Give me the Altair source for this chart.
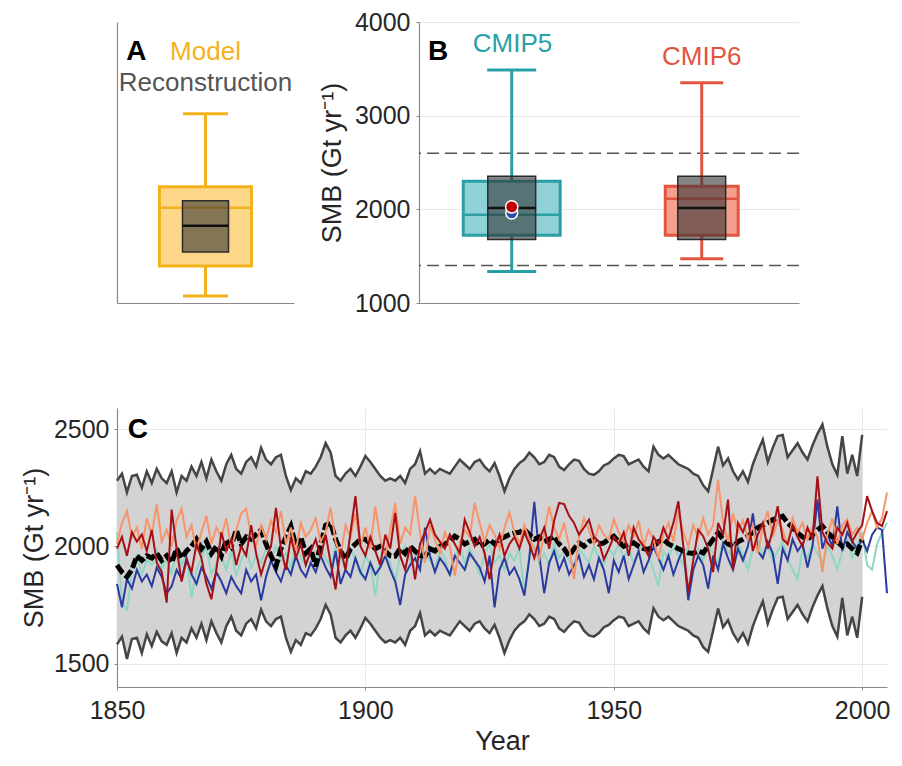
import altair as alt
import pandas as pd

FONT = "Liberation Sans"
INK = "#262626"
AXIS_GRAY = "#8a8a8a"
GRID = "#e9e9e9"

# ---------------- Panel A data ----------------
a_texts = ["A", "Model", "Reconstruction"]
a_model_stats = [1075, 1396, 2016, 2241, 3021]   # low whisker, q1, median, q3, high whisker
a_recon_stats = [1545, 1824, 2091]               # q1, median, q3

# ---------------- Panel B data ----------------
b_groups = ["CMIP5", "CMIP6"]
b_lo = [1337, 1473]
b_q1 = [1722, 1722]
b_med = [1943, 2114]
b_q3 = [2299, 2246]
b_hi = [3487, 3352]
b_recon = [1679, 2015, 2353]      # reconstruction q1, median, q3
b_range = [1400, 2600]            # dashed range lines
b_dot_red = 2026
b_dot_blue = 1960

# ---------------- Panel C data ----------------
recon_years = list(range(1850, 2001))
recon_upper = [
    2280, 2310, 2230, 2300, 2305, 2250, 2320, 2270, 2330, 2290,
    2270, 2320, 2230, 2300, 2280, 2340, 2300, 2360, 2290, 2370,
    2320, 2280, 2350, 2390, 2330, 2310, 2360, 2380, 2340, 2420,
    2370, 2350, 2380, 2390, 2300, 2240, 2290, 2270, 2320, 2310,
    2340, 2380, 2440, 2400, 2300, 2280, 2310, 2330, 2300, 2340,
    2385, 2360, 2330, 2300, 2280, 2290, 2280, 2300, 2270, 2330,
    2350, 2405, 2310, 2330, 2310, 2330, 2320, 2310, 2340, 2370,
    2350, 2330, 2360, 2370, 2340, 2320, 2355, 2300, 2235, 2290,
    2330, 2355, 2370, 2400, 2380, 2350, 2360, 2390, 2380, 2340,
    2325, 2350, 2370, 2365, 2330, 2310, 2305, 2320, 2345, 2355,
    2375, 2390, 2385, 2350, 2360, 2370, 2340, 2320, 2425, 2390,
    2375, 2390, 2370, 2350, 2340, 2330, 2310, 2300, 2260, 2235,
    2330, 2425, 2345, 2375, 2320, 2285, 2320, 2275, 2350, 2405,
    2455, 2360, 2420, 2470, 2475, 2380, 2410, 2440, 2400, 2370,
    2430, 2480, 2520, 2425, 2350, 2305, 2470, 2310, 2390, 2300,
    2475,
]
recon_lower = [
    1582, 1615, 1520, 1605, 1610, 1545, 1625, 1575, 1635, 1595,
    1580, 1630, 1545, 1610, 1590, 1650, 1610, 1670, 1600, 1680,
    1630, 1590, 1660, 1700, 1640, 1620, 1670, 1690, 1650, 1730,
    1680, 1660, 1690, 1700, 1610, 1550, 1600, 1580, 1630, 1620,
    1650, 1690, 1750, 1710, 1610, 1590, 1620, 1640, 1610, 1650,
    1695, 1670, 1640, 1610, 1590, 1600, 1590, 1610, 1580, 1640,
    1660, 1715, 1620, 1640, 1620, 1640, 1630, 1620, 1650, 1680,
    1660, 1640, 1670, 1680, 1650, 1630, 1665, 1610, 1545, 1600,
    1640, 1665, 1680, 1710, 1690, 1660, 1670, 1700, 1690, 1650,
    1635, 1660, 1680, 1675, 1640, 1620, 1615, 1630, 1655, 1665,
    1685, 1700, 1695, 1660, 1670, 1680, 1650, 1630, 1735, 1700,
    1685, 1700, 1680, 1660, 1650, 1640, 1620, 1610, 1570, 1550,
    1640, 1735, 1655, 1685, 1630, 1595, 1630, 1585, 1660, 1715,
    1765, 1670, 1730, 1780, 1785, 1690, 1720, 1750, 1710, 1680,
    1740, 1790, 1830, 1735, 1660, 1615, 1780, 1620, 1700, 1610,
    1785,
]
recon_mean = [
    1920, 1890, 1870, 1900, 1960, 1940, 1960, 1950, 1970, 1940,
    1960, 1930, 1990, 1950, 1980, 2000, 2030, 1990, 2020, 1970,
    2000, 1960, 2030, 2000, 2070, 2010, 2040, 2030, 2050, 2070,
    2010, 1960, 1915, 1990, 2040, 2085, 2000, 2040, 1970, 1990,
    1915, 2010, 2090, 2100, 2030, 1980, 1945, 1990, 2010, 2030,
    2030, 2010, 1990, 2000, 1980, 1960, 1958, 1990, 1970, 2000,
    1980, 1960, 1958, 1990, 1980, 2000, 2010, 2020, 2043, 2030,
    2010, 2020, 2030, 2000, 2010, 2029, 2010, 2030, 2040, 2050,
    2057, 2060, 2072, 2050, 2030, 2040, 2020, 2030, 2043, 2010,
    1990, 1958, 1990, 2015, 2000, 2020, 2030, 2010, 2015, 2030,
    2043, 2020, 2000, 2010, 2015, 2000, 1990, 1987, 2000, 2020,
    2029, 2010, 2000, 1990, 1980, 1972, 1970, 1980, 1972, 2000,
    2030, 2057, 2030, 2010, 2000, 2020, 2030, 2043, 2060, 2080,
    2090, 2100, 2114, 2120, 2128, 2100, 2080, 2057, 2040, 2029,
    2050, 2070, 2086, 2060, 2040, 2020, 2000, 2010, 1990, 1972,
    2029,
]

model_years = list(range(1850, 2006))
series_blue = [
    1840, 1740, 1860, 1820, 1900, 1850, 1880, 1830, 1910, 1870,
    1800, 1830, 1900, 1860, 1950, 1880, 1840, 1910, 1870, 1820,
    1890, 1850, 1800, 1870, 1830, 1800, 1900, 1850, 1880, 1770,
    1870, 1940, 1890, 1850, 1920, 1880, 1960, 1900, 1870, 1930,
    1890, 1960, 1910, 1870, 1980, 1840, 1900, 1870, 1950, 1890,
    1860, 1930, 1880, 1910, 1960, 1900, 1850, 1750, 1880, 1920,
    1950, 1900, 2080, 1960, 1890, 1950, 1920, 1880, 1960, 1930,
    1900, 1970, 1940, 1910, 1850, 1960, 1740, 1900, 1950, 1880,
    1910, 1860, 1790, 1950, 2190, 1960, 1800, 1930, 1980, 1900,
    1950, 1880, 1920, 1960, 1870, 1920, 1860, 1950, 1900, 1800,
    1940, 1890, 1960, 1860, 1920, 1980, 1890, 1940, 2000, 1950,
    1900, 1960, 1880, 1940, 1990, 1770, 1900, 1960, 1920, 1820,
    1960, 1900, 2010, 1950, 1900, 1990, 1940, 2000, 2140, 1980,
    1950, 2020, 1970, 1840, 1990, 1940, 2030, 1980, 2010, 1910,
    2000, 2200, 1990, 2050, 2000, 2170, 1980, 2060, 2020, 1990,
    2030, 1980, 2050, 2080, 2070, 1800,
]
series_teal = [
    2060, 1760, 1730, 1900, 1960, 1880, 1940, 1920, 1980, 1900,
    1950, 1880, 2000, 1920, 1970, 1780, 1900, 1950, 2000, 1880,
    1930, 1960, 1900, 1980, 1870, 1940, 1990, 1910, 1960, 1930,
    1990, 1950, 2000, 1940, 1970, 1910, 2010, 1950, 1920, 1980,
    1940, 1990, 1950, 1910, 2000, 1960, 1900, 1990, 1940, 1880,
    1960, 1920, 1790, 1950, 1990, 1930, 1850, 1960, 2000, 1940,
    1980, 1920, 1970, 1940, 1900, 1990, 1950, 1870, 1960, 2000,
    1930, 1990, 1940, 1880, 1970, 2010, 1930, 1960, 1900, 1970,
    1940, 1990, 1800, 1960, 2000, 1930, 1970, 1920, 2010, 1950,
    1980, 1940, 1910, 1990, 1960, 1930, 2000, 1950, 1920, 1990,
    1960, 2010, 1950, 1990, 1930, 1980, 2020, 1960, 1900, 1830,
    1980, 1950, 2010, 1960, 1920, 2000, 1950, 1990, 1940, 2010,
    1970, 1930, 2020, 1980, 1950, 2010, 1960, 1900, 1990, 2030,
    1960, 2000, 1940, 1980, 2020, 1950, 1900, 1860, 1990, 1950,
    2010, 1970, 1930, 2000, 1960, 1900, 1980, 2030, 1950, 2000,
    2060, 1920, 1900, 2010, 2060, 2100,
]
series_salmon = [
    2010, 2100, 2150, 2040, 2080, 1990, 2120, 2050, 2180, 2020,
    2070, 2000, 2110, 2160, 2040, 2090, 1980, 2060, 2130, 2010,
    2080, 2040, 2120, 1990, 2070, 2140, 2160, 2050, 2000, 2090,
    2030, 2110, 2060, 2150, 2010, 2080, 1980, 2100, 2040, 2070,
    2120, 2020, 2060, 2165, 2020, 1960, 2090, 2040, 2140, 2000,
    2080, 1990, 2170, 2030, 1960, 2070, 2185, 2010, 2080, 2050,
    2215, 2060, 1930, 2090, 2030, 1970, 2060, 2000, 1875, 2010,
    2070, 2040, 2185, 2100, 2020, 2090, 2050, 1990, 2080, 2145,
    2060, 2010, 2090, 2030, 1990, 1945, 2060, 2170, 2080, 2030,
    2100, 2000, 1860, 2040, 2120, 2070, 2010, 2090, 2050, 2030,
    2115, 2060, 2020, 2090, 2040, 2110, 2000, 2070, 2030, 1945,
    2050, 2100, 2020, 2150, 2060, 2000, 2090, 2040, 2120, 2050,
    2090, 2285, 2100, 2020, 2140, 2060, 2110, 2030, 2090, 1970,
    2080, 2150, 2040, 2110, 2070, 2000, 2120, 2060, 2100, 2030,
    2080, 2040, 1890, 2050, 2120, 2010, 2090, 2115, 2050, 2080,
    2030, 2100, 2150, 2080, 2120, 2230,
]
series_darkred = [
    1990, 2040, 1960, 2060, 2020, 2050, 1980, 2070, 1930, 1890,
    1760, 2157, 1990, 1850, 1940, 1890, 2010, 1950, 1840, 1774,
    1900, 2060, 1980, 2030, 1920, 2000, 1960, 2090, 1970, 1880,
    1950, 2000, 2164, 1990, 1900, 2040, 1950, 2010, 1920, 1980,
    2030, 1950, 2050, 1930, 1816, 1990, 1900, 2060, 2214, 2000,
    1960, 2040, 1980, 1920, 2050, 1990, 2143, 1960, 1900, 2000,
    1859, 2010, 2060, 2114, 2050, 2020, 1990, 2050, 2010, 1970,
    2114, 2060, 2000, 2040, 1970, 1859, 1990, 2050, 1960, 2010,
    2040, 1990, 2060, 2010, 1950, 2030, 2080, 1990, 2110, 2185,
    2180, 2130, 2100, 2050, 2080, 2114, 2040, 2020, 1944, 1990,
    2040, 2010, 2060, 1960, 2080, 2030, 2000, 1960, 2040, 2010,
    2080, 2030, 2100, 2192, 2000, 1802, 1940, 2070, 2043, 1990,
    1890, 2100, 2050, 2199, 1901, 2100, 2060, 2120, 1980, 2050,
    2100, 1990, 2070, 2171, 2030, 2010, 2090, 2040, 2000, 2080,
    2030, 2299, 2060, 2015, 1990, 2080, 2050, 2100, 2020, 2060,
    2090, 2214, 2150, 2100, 2086, 2150,
]

# ---------------- colours / sizes ----------------
C5_STROKE, C5_FILL = "#2a9fa6", "#8fd1d7"
C6_STROKE, C6_FILL = "#e2553f", "#f4a08e"
MOD_STROKE, MOD_FILL = "#f3b21c", "#fcd787"
DARK_FILL, DARK_STROKE = "#333333", "#2b2b2b"
YLAB = "SMB (Gt yr\u207b\u00b9)"

# ======================= Panel A =======================
A_C = 0.5
A_BOX, A_CAP, A_REC = 0.26, 0.127, 0.13
lo, q1, med, q3, hi = a_model_stats
r1, rm, r3 = a_recon_stats
dfA = pd.DataFrame({
    "c": [A_C], "bx1": [A_C - A_BOX], "bx2": [A_C + A_BOX],
    "cx1": [A_C - A_CAP], "cx2": [A_C + A_CAP],
    "rx1": [A_C - A_REC], "rx2": [A_C + A_REC],
    "lo": [lo], "q1": [q1], "med": [med], "q3": [q3], "hi": [hi],
    "r1": [r1], "rm": [rm], "r3": [r3],
})
axA_x = alt.Axis(title=None, labels=False, ticks=False, grid=False)
axA_y = alt.Axis(title=YLAB, values=[1000, 2000, 3000, 4000], format="d", grid=False,
                 labelOpacity=0, titleOpacity=0, tickOpacity=0,
                 tickSize=3, labelPadding=5, titlePadding=5)
scA_x = alt.Scale(domain=[0, 1], nice=False, zero=False)
scY = alt.Scale(domain=[1000, 4000], nice=False, zero=False)


def ax_(f):
    return alt.X(f"{f}:Q", scale=scA_x, axis=axA_x)


def ay_(f):
    return alt.Y(f"{f}:Q", scale=scY, axis=axA_y)


baseA = alt.Chart(dfA)
A_layers = [
    baseA.mark_rule(color=MOD_STROKE, strokeWidth=3).encode(x=ax_("c"), y=ay_("lo"), y2="q1:Q"),
    baseA.mark_rule(color=MOD_STROKE, strokeWidth=3).encode(x=ax_("c"), y=ay_("q3"), y2="hi:Q"),
    baseA.mark_rule(color=MOD_STROKE, strokeWidth=3).encode(x=ax_("cx1"), x2="cx2:Q", y=ay_("lo")),
    baseA.mark_rule(color=MOD_STROKE, strokeWidth=3).encode(x=ax_("cx1"), x2="cx2:Q", y=ay_("hi")),
    baseA.mark_rect(fill=MOD_FILL, stroke=MOD_STROKE, strokeWidth=3).encode(
        x=ax_("bx1"), x2="bx2:Q", y=ay_("q1"), y2="q3:Q"),
    baseA.mark_rule(color=MOD_STROKE, strokeWidth=2.5).encode(x=ax_("bx1"), x2="bx2:Q", y=ay_("med")),
    baseA.mark_rect(fill=DARK_FILL, fillOpacity=0.6, stroke=DARK_STROKE, strokeWidth=1.5).encode(
        x=ax_("rx1"), x2="rx2:Q", y=ay_("r1"), y2="r3:Q"),
    baseA.mark_rule(color="#111111", strokeWidth=2.5).encode(x=ax_("rx1"), x2="rx2:Q", y=ay_("rm")),
]
dfA_txt = pd.DataFrame({"t": a_texts, "x": [0.11, 0.5, 0.5], "y": [3679, 3679, 3348]})
A_layers.append(
    alt.Chart(dfA_txt[dfA_txt.t == "A"]).mark_text(font=FONT, fontSize=28, fontWeight="bold", color="#000000")
    .encode(x=ax_("x"), y=ay_("y"), text="t:N"))
A_layers.append(
    alt.Chart(dfA_txt[dfA_txt.t == "Model"]).mark_text(font=FONT, fontSize=26, color=MOD_STROKE)
    .encode(x=ax_("x"), y=ay_("y"), text="t:N"))
A_layers.append(
    alt.Chart(dfA_txt[dfA_txt.t == "Reconstruction"]).mark_text(font=FONT, fontSize=26, color="#555555")
    .encode(x=ax_("x"), y=ay_("y"), text="t:N"))
panelA = alt.layer(*A_layers).properties(width=177, height=281)

# ======================= Panel B =======================
B_POS = [1, 2]
B_BOX = [0.255, 0.192]
B_CAP = [0.129, 0.113]
B_REC = 0.126
dfB = pd.DataFrame({
    "name": b_groups, "c": B_POS,
    "bx1": [p - h for p, h in zip(B_POS, B_BOX)], "bx2": [p + h for p, h in zip(B_POS, B_BOX)],
    "cx1": [p - h for p, h in zip(B_POS, B_CAP)], "cx2": [p + h for p, h in zip(B_POS, B_CAP)],
    "rx1": [p - B_REC for p in B_POS], "rx2": [p + B_REC for p in B_POS],
    "lo": b_lo, "q1": b_q1, "med": b_med, "q3": b_q3, "hi": b_hi,
    "r1": [b_recon[0]] * 2, "rm": [b_recon[1]] * 2, "r3": [b_recon[2]] * 2,
})
axB_x = alt.Axis(title=None, labels=False, ticks=False, grid=False)
axB_y = alt.Axis(title=YLAB, values=[1000, 2000, 3000, 4000], format="d", grid=True,
                 tickSize=3, labelPadding=6, titlePadding=8)
scB_x = alt.Scale(domain=[0.512, 2.512], nice=False, zero=False)


def bx_(f):
    return alt.X(f"{f}:Q", scale=scB_x, axis=axB_x)


def by_(f):
    return alt.Y(f"{f}:Q", scale=scY, axis=axB_y)


strokeB = alt.Color("name:N", scale=alt.Scale(domain=b_groups, range=[C5_STROKE, C6_STROKE]), legend=None)
fillB = alt.Fill("name:N", scale=alt.Scale(domain=b_groups, range=[C5_FILL, C6_FILL]), legend=None)
strokeB2 = alt.Stroke("name:N", scale=alt.Scale(domain=b_groups, range=[C5_STROKE, C6_STROKE]), legend=None)

baseB = alt.Chart(dfB)
dfRange = pd.DataFrame({"v": b_range})
B_layers = [
    alt.Chart(dfRange).mark_rule(color="#555555", strokeWidth=1.5, strokeDash=[12, 6]).encode(y=by_("v")),
    baseB.mark_rule(strokeWidth=3).encode(x=bx_("c"), y=by_("lo"), y2="q1:Q", color=strokeB),
    baseB.mark_rule(strokeWidth=3).encode(x=bx_("c"), y=by_("q3"), y2="hi:Q", color=strokeB),
    baseB.mark_rule(strokeWidth=3).encode(x=bx_("cx1"), x2="cx2:Q", y=by_("lo"), color=strokeB),
    baseB.mark_rule(strokeWidth=3).encode(x=bx_("cx1"), x2="cx2:Q", y=by_("hi"), color=strokeB),
    baseB.mark_rect(strokeWidth=3).encode(x=bx_("bx1"), x2="bx2:Q", y=by_("q1"), y2="q3:Q",
                                          fill=fillB, stroke=strokeB2),
    baseB.mark_rule(strokeWidth=2.5).encode(x=bx_("bx1"), x2="bx2:Q", y=by_("med"), color=strokeB),
    baseB.mark_rect(fill=DARK_FILL, fillOpacity=0.6, stroke=DARK_STROKE, strokeWidth=1.5).encode(
        x=bx_("rx1"), x2="rx2:Q", y=by_("r1"), y2="r3:Q"),
    baseB.mark_rule(color="#111111", strokeWidth=2.5).encode(x=bx_("rx1"), x2="rx2:Q", y=by_("rm")),
]
dfDots = pd.DataFrame({"x": [1, 1], "y": [b_dot_blue, b_dot_red], "k": ["blue", "red"]})
B_layers.append(alt.Chart(dfDots[dfDots.k == "blue"]).mark_point(
    filled=True, shape="circle", size=140, color="#2b4fa8", stroke="white", strokeWidth=1.5, opacity=1)
    .encode(x=bx_("x"), y=by_("y")))
B_layers.append(alt.Chart(dfDots[dfDots.k == "red"]).mark_point(
    filled=True, shape="circle", size=150, color="#c00000", stroke="white", strokeWidth=1.5, opacity=1)
    .encode(x=bx_("x"), y=by_("y")))
dfB_txt = pd.DataFrame({"t": ["B", "CMIP5", "CMIP6"], "x": [0.612, 1.004, 2.0], "y": [3679, 3765, 3631]})
B_layers.append(alt.Chart(dfB_txt[dfB_txt.t == "B"]).mark_text(
    font=FONT, fontSize=28, fontWeight="bold", color="#000000").encode(x=bx_("x"), y=by_("y"), text="t:N"))
B_layers.append(alt.Chart(dfB_txt[dfB_txt.t == "CMIP5"]).mark_text(
    font=FONT, fontSize=26, color=C5_STROKE).encode(x=bx_("x"), y=by_("y"), text="t:N"))
B_layers.append(alt.Chart(dfB_txt[dfB_txt.t == "CMIP6"]).mark_text(
    font=FONT, fontSize=26, color=C6_STROKE).encode(x=bx_("x"), y=by_("y"), text="t:N"))
panelB = alt.layer(*B_layers).properties(width=380, height=281)

# ======================= Panel C =======================
dfR = pd.DataFrame({"year": recon_years, "upper": recon_upper, "lower": recon_lower, "mean": recon_mean})
dfM = pd.DataFrame({"year": model_years, "blue": series_blue, "teal": series_teal,
                    "salmon": series_salmon, "darkred": series_darkred})
axC_x = alt.Axis(title="Year", values=[1850, 1900, 1950, 2000], format="d", grid=True,
                 tickSize=3, labelPadding=8, titlePadding=5)
axC_y = alt.Axis(title=YLAB, values=[1500, 2000, 2500], format="d", grid=True,
                 tickSize=3, labelPadding=5, titlePadding=5)
scC_x = alt.Scale(domain=[1850, 2005], nice=False, zero=False)
scC_y = alt.Scale(domain=[1400, 2590], nice=False, zero=False)


def cx_(f):
    return alt.X(f"{f}:Q", scale=scC_x, axis=axC_x)


def cy_(f):
    return alt.Y(f"{f}:Q", scale=scC_y, axis=axC_y)


C_layers = [
    alt.Chart(dfR).mark_area(color="#d3d3d3", opacity=1).encode(x=cx_("year"), y=cy_("lower"), y2="upper:Q"),
    alt.Chart(dfR).mark_line(color="#454545", strokeWidth=2.5).encode(x=cx_("year"), y=cy_("upper")),
    alt.Chart(dfR).mark_line(color="#454545", strokeWidth=2.5).encode(x=cx_("year"), y=cy_("lower")),
    alt.Chart(dfM).mark_line(color="#8fd6c4", strokeWidth=2).encode(x=cx_("year"), y=cy_("teal")),
    alt.Chart(dfM).mark_line(color="#2a3a9e", strokeWidth=2).encode(x=cx_("year"), y=cy_("blue")),
    alt.Chart(dfR).mark_line(color="#000000", strokeWidth=5, strokeDash=[10, 3]).encode(x=cx_("year"), y=cy_("mean")),
    alt.Chart(dfM).mark_line(color="#f7946a", strokeWidth=2).encode(x=cx_("year"), y=cy_("salmon")),
    alt.Chart(dfM).mark_line(color="#a50f15", strokeWidth=2).encode(x=cx_("year"), y=cy_("darkred")),
]
dfC_txt = pd.DataFrame({"t": ["C"], "x": [1854.2], "y": [2496]})
C_layers.append(alt.Chart(dfC_txt).mark_text(font=FONT, fontSize=28, fontWeight="bold", color="#000000")
                .encode(x=cx_("x"), y=cy_("y"), text="t:N"))
panelC = alt.layer(*C_layers).properties(width=770, height=279)

top = alt.hconcat(panelA, panelB, spacing=125, bounds="flush")
chart = alt.vconcat(top, panelC, spacing=92).properties(
    padding={"left": 12, "top": 2, "right": 0, "bottom": 0}
).configure_axis(
    labelFont=FONT, titleFont=FONT, labelFontSize=25, titleFontSize=27,
    labelColor=INK, titleColor=INK, titleFontWeight="normal",
    domainColor=AXIS_GRAY, tickColor=AXIS_GRAY, gridColor=GRID,
    labelFlush=False, domainWidth=1.2,
).configure_view(stroke=None)

chart.save("out.html", embed_options={"renderer": "svg", "actions": False})
